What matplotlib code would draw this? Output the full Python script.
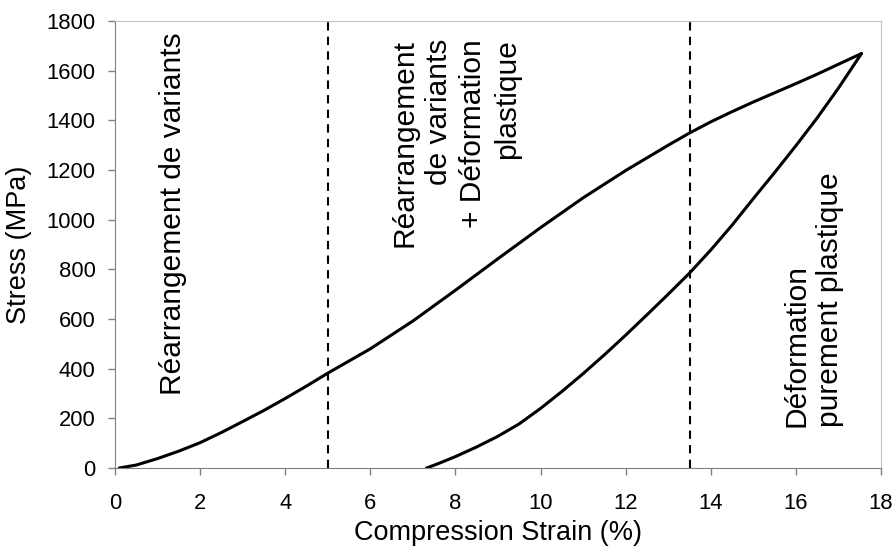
import matplotlib
matplotlib.use("Agg")
import matplotlib.pyplot as plt

plt.rcParams.update({"font.family": ["Liberation Sans", "DejaVu Sans"]})

# ── Donnees ───────────────────────────────────────────────────────────────────
charge_x = [0.1, 0.5, 1.0, 1.5, 2.0, 2.5, 3.0, 3.5, 4.0, 4.5, 5.0, 6.0, 7.0,
            8.0, 9.0, 10.0, 11.0, 12.0, 13.0, 13.5, 14.0, 14.5, 15.0, 15.5,
            16.0, 16.5, 17.0, 17.54]
charge_y = [0, 12, 38, 68, 102, 143, 187, 232, 280, 330, 382, 480, 592,
            716, 843, 968, 1088, 1198, 1300, 1349, 1394, 1435, 1474, 1511,
            1548, 1586, 1626, 1669]

decharge_x = [7.32, 7.6, 8.0, 8.5, 9.0, 9.5, 10.0, 10.5, 11.0, 11.5, 12.0,
              12.5, 13.0, 13.5, 14.0, 14.5, 15.0, 15.5, 16.0, 16.5, 17.0, 17.54]
decharge_y = [0, 18, 46, 85, 128, 178, 240, 308, 380, 456, 535,
              617, 700, 785, 878, 978, 1085, 1190, 1298, 1410, 1530, 1669]

limites = [5, 13.5]

TXT_1 = "Réarrangement de variants"
TXT_2 = "Réarrangement\nde variants\n+ Déformation\nplastique"
TXT_3 = "Déformation\npurement plastique"

# ── Figure ───────────────────────────────────────────────────────────────────
fig = plt.figure(figsize=(8.96, 5.49), dpi=100)
ax = fig.add_axes([0.1283, 0.1475, 0.855, 0.8142])

ax.plot(charge_x, charge_y, color="black", linewidth=2.2,
        solid_capstyle="round", solid_joinstyle="round")
ax.plot(decharge_x, decharge_y, color="black", linewidth=2.2,
        solid_capstyle="round", solid_joinstyle="round")
for xv in limites:
    ax.axvline(xv, color="black", linewidth=1.5, linestyle=(0, (4, 3)))

ax.set_xlim(0, 18)
ax.set_ylim(0, 1800)
ax.set_xticks(range(0, 19, 2))
ax.set_yticks(range(0, 1801, 200))

ax.text(1.36, 1025, TXT_1, rotation=90, ha="center", va="center", fontsize=21.5)
ax.text(8.01, 1728, TXT_2, rotation=90, ha="center", va="top",
        multialignment="right", fontsize=21.5, linespacing=1.28)
ax.text(16.41, 165, TXT_3, rotation=90, ha="center", va="bottom",
        multialignment="left", fontsize=21.5, linespacing=1.28)

ax.set_xlabel("Compression Strain (%)", fontsize=19.5, labelpad=4)
ax.set_ylabel("Stress (MPa)", fontsize=19.5, labelpad=10)

ax.tick_params(axis="both", direction="out", length=5, width=1, color="#808080",
               labelsize=15.8)
ax.tick_params(axis="x", pad=13)
ax.tick_params(axis="y", pad=9)
for s in ["left", "bottom"]:
    ax.spines[s].set_color("#808080")
for s in ["top", "right"]:
    ax.spines[s].set_color("#c0c0c0")

fig.savefig("out.png", dpi=100)
